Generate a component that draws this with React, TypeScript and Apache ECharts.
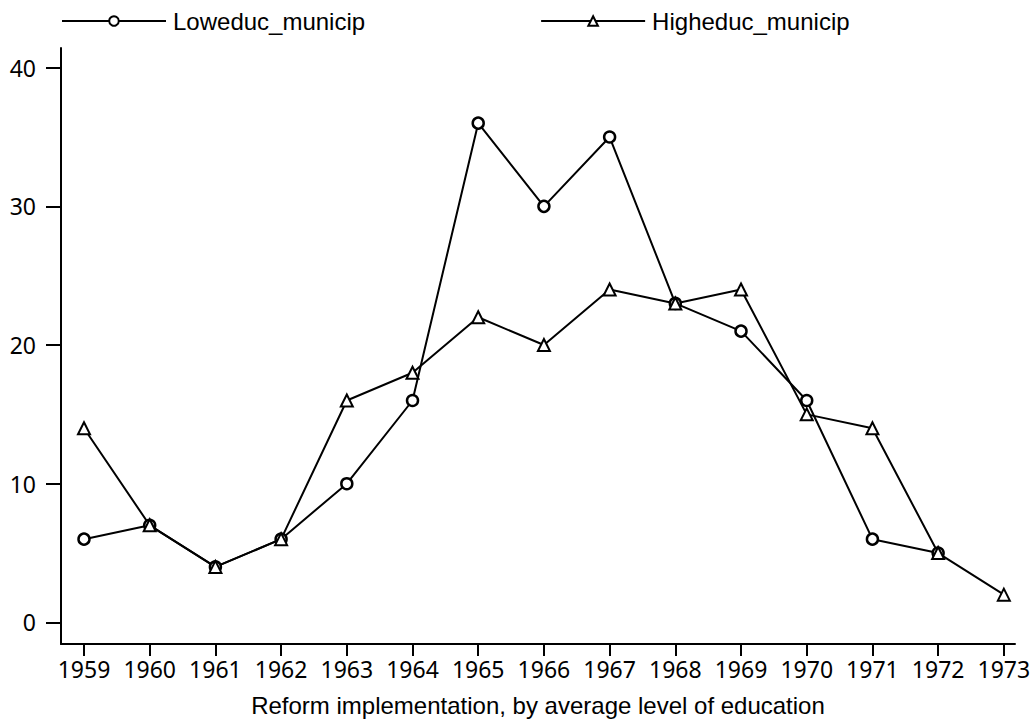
import React, { useEffect, useRef } from "react";
import * as echarts from "echarts";

const years = [1959, 1960, 1961, 1962, 1963, 1964, 1965, 1966, 1967, 1968, 1969, 1970, 1971, 1972, 1973];
const loweduc = [6, 7, 4, 6, 10, 16, 36, 30, 35, 23, 21, 16, 6, 5, null];
const higheduc = [14, 7, 4, 6, 16, 18, 22, 20, 24, 23, 24, 15, 14, 5, 2];
const yTicks = [0, 10, 20, 30, 40];

export default function App() {
  const ref = useRef<HTMLDivElement>(null);
  useEffect(() => {
    const chart = echarts.init(ref.current!, null, { renderer: "svg" });
    const mk = (vals: (number | null)[]) =>
      years.map((y, i) => [y, vals[i]]).filter((p) => p[1] !== null);
    chart.setOption({
      animation: false,
      backgroundColor: "#fff",
      legend: {
        top: 9,
        left: 61,
        itemWidth: 104,
        itemHeight: 12,
        itemGap: 175,
        padding: 0,
        textStyle: { fontFamily: "Liberation Sans", fontSize: 24, color: "#000", padding: [0, 0, 0, 2] },
        data: ["Loweduc_municip", "Higheduc_municip"],
      },
      grid: { left: 61, right: 19, top: 48, bottom: 67 },
      xAxis: {
        type: "value",
        min: 1958.65,
        max: 1973.17,
        name: "Reform implementation, by average level of education",
        nameLocation: "middle",
        nameGap: 49,
        nameTextStyle: { fontFamily: "Liberation Sans", fontSize: 24, color: "#000" },
        axisLine: { show: true, onZero: false, lineStyle: { color: "#000", width: 2 } },
        axisTick: { show: true, length: 12, lineStyle: { color: "#000", width: 2 }, customValues: years },
        axisLabel: {
          customValues: years,
          fontFamily: "Noto Sans",
          fontSize: 23,
          color: "#000",
          margin: 13,
          formatter: (v: number) => String(v),
        },
        splitLine: { show: false },
      },
      yAxis: {
        type: "value",
        min: -1.56,
        max: 41.42,
        axisLine: { show: true, onZero: false, lineStyle: { color: "#000", width: 2 } },
        axisTick: { show: true, length: 15, lineStyle: { color: "#000", width: 2 }, customValues: yTicks },
        axisLabel: {
          customValues: yTicks,
          fontFamily: "Noto Sans",
          fontSize: 23,
          color: "#000",
          margin: 25,
        },
        splitLine: { show: false },
      },
      series: [
        {
          name: "Loweduc_municip",
          type: "line",
          data: mk(loweduc),
          symbol: "circle",
          symbolSize: 11,
          lineStyle: { color: "#000", width: 2 },
          itemStyle: { color: "#fff", borderColor: "#000", borderWidth: 2.5 },
        },
        {
          name: "Higheduc_municip",
          type: "line",
          data: mk(higheduc),
          symbol: "triangle",
          symbolSize: 12,
          lineStyle: { color: "#000", width: 2 },
          itemStyle: { color: "#fff", borderColor: "#000", borderWidth: 2 },
        },
      ],
    });
    return () => chart.dispose();
  }, []);
  return <div ref={ref} style={{ width: 1034, height: 722, position: "absolute", left: 0, top: 0 }} />;
}
